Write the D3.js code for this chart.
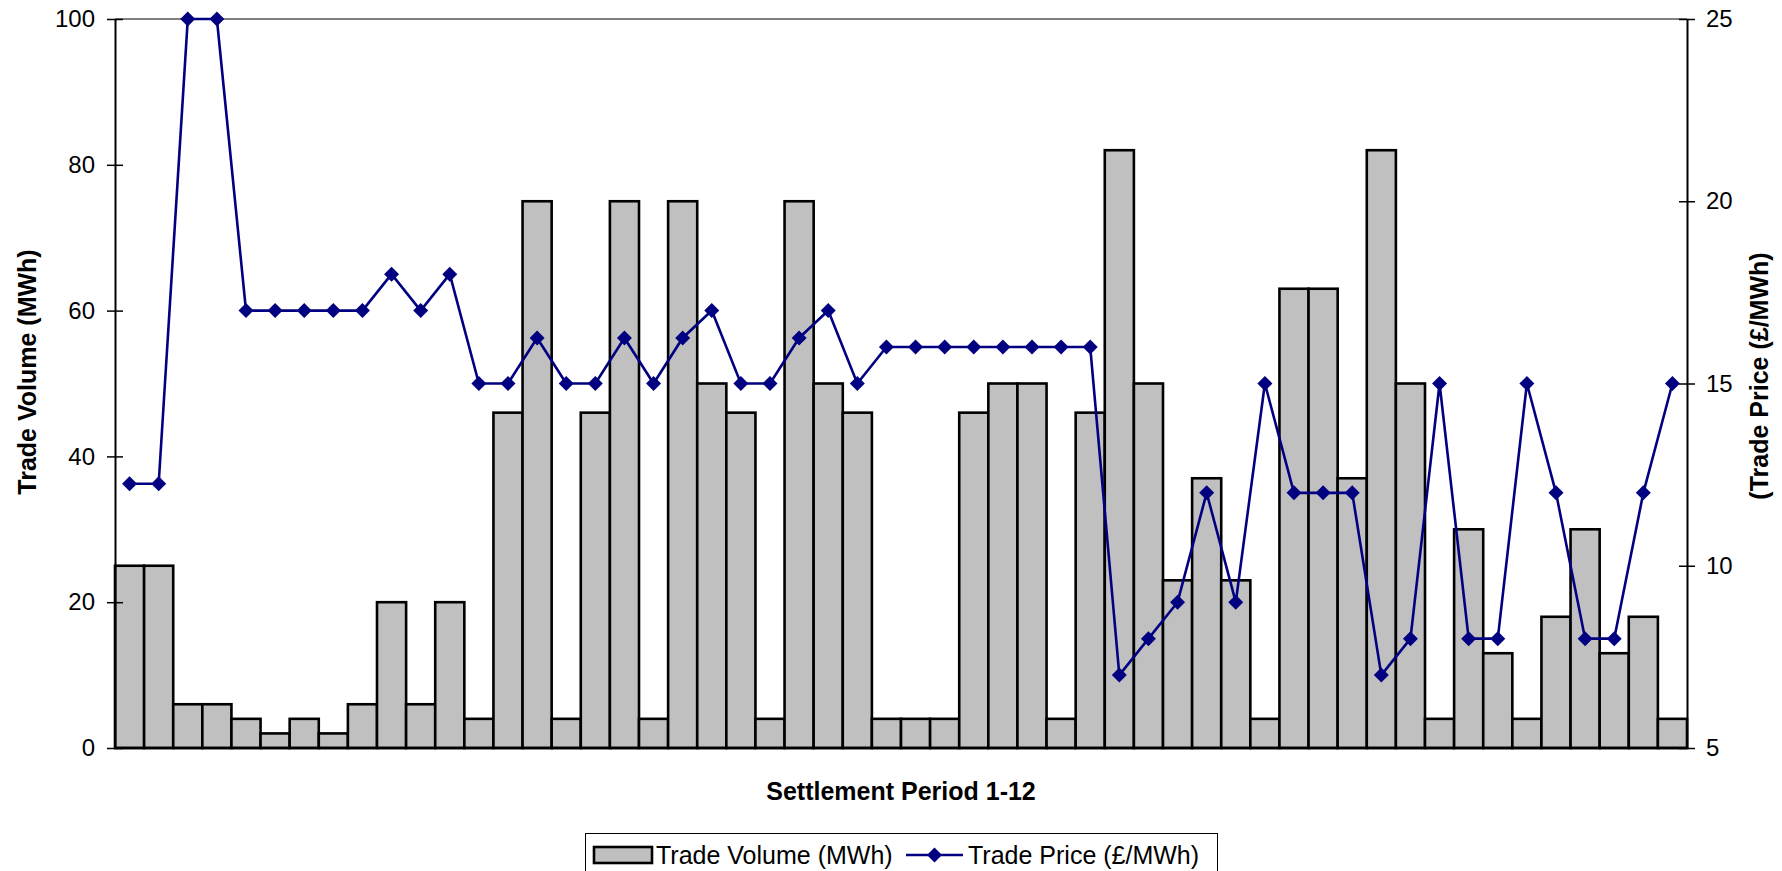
<!DOCTYPE html>
<html>
<head>
<meta charset="utf-8">
<script src="https://cdn.jsdelivr.net/npm/d3@7"></script>
<style>
  html, body { margin: 0; padding: 0; background: #fff; }
  svg { display: block; font-family: "Liberation Sans", Arial, sans-serif; }
</style>
</head>
<body>
<svg id="chart" width="1782" height="871"></svg>
<script>
// ---- data ----
const periods = d3.range(1, 55);
const tradeVolume = [25, 25, 6, 6, 4, 2, 4, 2, 6, 20, 6, 20, 4, 46, 75, 4, 46, 75, 4, 75,
  50, 46, 4, 75, 50, 46, 4, 4, 4, 46, 50, 50, 4, 46, 82, 50, 23, 37, 23, 4,
  63, 63, 37, 82, 50, 4, 30, 13, 4, 18, 30, 13, 18, 4];
const tradePrice = [12.25, 12.25, 25, 25, 17, 17, 17, 17, 17, 18, 17, 18, 15, 15, 16.25, 15, 15, 16.25, 15, 16.25,
  17, 15, 15, 16.25, 17, 15, 16, 16, 16, 16, 16, 16, 16, 16, 7, 8, 9, 12, 9, 15,
  12, 12, 12, 7, 8, 15, 8, 8, 15, 12, 8, 8, 12, 15];
const volumeTicks = [0, 20, 40, 60, 80, 100];
const priceTicks = [5, 10, 15, 20, 25];
const xTitle = "Settlement Period 1-12";
const yTitle = "Trade Volume (MWh)";
const y2Title = "(Trade Price (£/MWh)";
const legendLabels = ["Trade Volume (MWh)", "Trade Price (£/MWh)"];

// ---- layout ----
const L = 115, R = 1687, T = 19, B = 748;
const svg = d3.select("#chart");
const FS = 24;

const x = d3.scaleBand().domain(periods).range([L, R]).padding(0);
const y = d3.scaleLinear().domain([0, 100]).range([B, T]);
const y2 = d3.scaleLinear().domain([5, 25]).range([B, T]);

// top border of plot area
svg.append("line").attr("x1", L).attr("x2", R).attr("y1", T).attr("y2", T)
  .attr("stroke", "#808080").attr("stroke-width", 2);

// bars
svg.append("g").selectAll("rect").data(tradeVolume).join("rect")
  .attr("x", (d, i) => x(periods[i]))
  .attr("y", d => y(d))
  .attr("width", x.bandwidth())
  .attr("height", d => B - y(d))
  .attr("fill", "#C0C0C0")
  .attr("stroke", "#000")
  .attr("stroke-width", 2.6);

// axes
const tickLen = 8;
const gl = svg.append("g").attr("transform", `translate(${L},0)`)
  .call(d3.axisLeft(y).tickValues(volumeTicks).tickSize(tickLen).tickPadding(12).tickSizeOuter(0));
gl.select(".domain").attr("stroke", "#000").attr("stroke-width", 2);
gl.selectAll(".tick line").attr("x1", tickLen).attr("stroke", "#000").attr("stroke-width", 1.5);
gl.selectAll(".tick text").attr("font-size", FS).attr("fill", "#000")
  .attr("font-family", "Liberation Sans, Arial, sans-serif");

const gr = svg.append("g").attr("transform", `translate(${R},0)`)
  .call(d3.axisRight(y2).tickValues(priceTicks).tickSize(tickLen).tickPadding(11).tickSizeOuter(0));
gr.select(".domain").attr("stroke", "#000").attr("stroke-width", 2);
gr.selectAll(".tick line").attr("x1", -tickLen).attr("stroke", "#000").attr("stroke-width", 1.5);
gr.selectAll(".tick text").attr("font-size", FS).attr("fill", "#000")
  .attr("font-family", "Liberation Sans, Arial, sans-serif");

// bottom axis line
svg.append("line").attr("x1", L).attr("x2", R).attr("y1", B).attr("y2", B)
  .attr("stroke", "#000").attr("stroke-width", 2.6);

// price line
const cx = (d, i) => x(periods[i]) + x.bandwidth() / 2;
const line = d3.line().x(cx).y(d => y2(d));
svg.append("path").datum(tradePrice)
  .attr("d", line).attr("fill", "none").attr("stroke", "#000080").attr("stroke-width", 2.6);
const diamond = "M0,-7.5L7.5,0L0,7.5L-7.5,0Z";
svg.append("g").selectAll("path").data(tradePrice).join("path")
  .attr("d", diamond)
  .attr("transform", (d, i) => `translate(${cx(d, i)},${y2(d)})`)
  .attr("fill", "#000080");

// titles
svg.append("text").attr("x", 901).attr("y", 800).attr("text-anchor", "middle")
  .attr("font-size", 25).attr("font-weight", "bold").text(xTitle);
svg.append("text").attr("transform", `translate(36,372) rotate(-90)`).attr("text-anchor", "middle")
  .attr("font-size", 25).attr("font-weight", "bold").text(yTitle);
svg.append("text").attr("transform", `translate(1768,376) rotate(-90)`).attr("text-anchor", "middle")
  .attr("font-size", 25).attr("font-weight", "bold").text(y2Title);

// legend
const lg = svg.append("g");
lg.append("rect").attr("x", 585.5).attr("y", 833.5).attr("width", 632).attr("height", 50)
  .attr("fill", "#fff").attr("stroke", "#000").attr("stroke-width", 1);
lg.append("rect").attr("x", 594).attr("y", 847).attr("width", 58).attr("height", 16)
  .attr("fill", "#C0C0C0").attr("stroke", "#000").attr("stroke-width", 2.6);
lg.append("text").attr("x", 656).attr("y", 864).attr("font-size", 25).text(legendLabels[0]);
lg.append("line").attr("x1", 906).attr("x2", 963).attr("y1", 855).attr("y2", 855)
  .attr("stroke", "#000080").attr("stroke-width", 2.6);
lg.append("path").attr("d", diamond).attr("transform", "translate(934.5,855)").attr("fill", "#000080");
lg.append("text").attr("x", 968).attr("y", 864).attr("font-size", 25).text(legendLabels[1]);
</script>
</body>
</html>
